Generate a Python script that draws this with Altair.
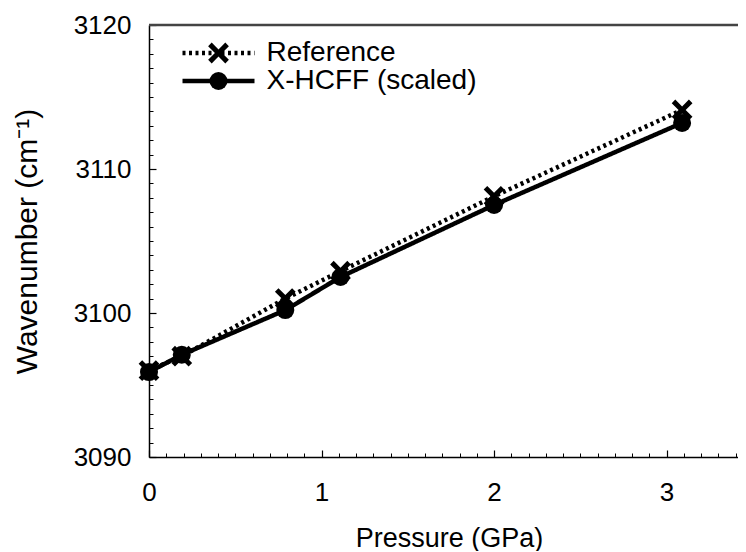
import math
import altair as alt
import pandas as pd

# ---- data ----
pressure = [0.0, 0.19, 0.79, 1.11, 2.0, 3.09]
reference = [3096.0, 3097.0, 3101.0, 3102.9, 3108.1, 3114.1]
xhcff = [3095.9, 3097.1, 3100.2, 3102.5, 3107.5, 3113.2]
series_names = ["Reference", "X-HCFF (scaled)"]
marker_keys = ["ref-marker", "hcff-marker"]

x_major = [0, 1, 2, 3]
x_minor = [0.1, 0.2, 0.3, 0.4, 0.5, 0.6, 0.7, 0.8, 0.9,
           1.1, 1.2, 1.3, 1.4, 1.5, 1.6, 1.7, 1.8, 1.9,
           2.1, 2.2, 2.3, 2.4, 2.5, 2.6, 2.7, 2.8, 2.9,
           3.1, 3.2, 3.3, 3.4]
y_major = [3090, 3100, 3110, 3120]
y_minor = [v for v in range(3090, 3121) if v % 10 != 0]

rows = []
for name, key, vals in zip(series_names, marker_keys, [reference, xhcff]):
    for p, v in zip(pressure, vals):
        rows.append({"series": name, "marker": key, "pressure": p, "wn": v})
df = pd.DataFrame(rows)

FONT = "Liberation Sans"
FS = 26

xscale = alt.Scale(domain=[0, 3.414], nice=False, zero=False)
yscale = alt.Scale(domain=[3090, 3120], nice=False, zero=False)

base = alt.Chart(df)

# frame top line
top = alt.Chart(pd.DataFrame({"y": [3120]})).mark_rule(
    color="#444444", strokeWidth=2.5
).encode(y=alt.Y("y:Q", scale=yscale, axis=None))

# filled "X" marker outline (a plus sign rotated by 45 degrees), unit coords
L, H = 1.35, 0.28
plus = [(-H, L), (H, L), (H, H), (L, H), (L, -H), (H, -H), (H, -L),
        (-H, -L), (-H, -H), (-L, -H), (-L, H), (-H, H)]
rot = [((px - py) / math.sqrt(2), (px + py) / math.sqrt(2)) for px, py in plus]
x_path = "M" + "L".join(f"{a:.3f},{b:.3f}" for a, b in rot) + "Z"
circ_path = "circle"
line_path = "M-4,0L4,0"
SYM = 324

lines = base.mark_line(color="black", strokeWidth=4.5, strokeCap="butt").encode(
    x=alt.X("pressure:Q", scale=xscale,
            axis=alt.Axis(orient="bottom", values=x_major, format="d",
                          ticks=False, tickSize=0, domain=True,
                          domainColor="black", domainWidth=1.5,
                          labelFont=FONT, labelFontSize=FS, labelColor="black",
                          labelPadding=22, labelFlush=False,
                          title="Pressure (GPa)", titleFont=FONT,
                          titleFontSize=27, titleFontWeight="normal",
                          titleColor="black", titlePadding=20, titleX=300)),
    y=alt.Y("wn:Q", scale=yscale,
            axis=alt.Axis(orient="left", values=y_major, format="d",
                          ticks=False, tickSize=0, domain=True,
                          domainColor="black", domainWidth=1.5,
                          labelFont=FONT, labelFontSize=FS, labelColor="black",
                          labelPadding=18, labelFlush=False,
                          title="Wavenumber (cm⁻¹)", titleFont=FONT,
                          titleFontSize=30, titleFontWeight="normal",
                          titleColor="black", titlePadding=31)),
    strokeDash=alt.StrokeDash(
        "series:N",
        scale=alt.Scale(domain=series_names, range=[[3, 3.5], [1, 0]]),
        legend=alt.Legend(orient="none", legendX=55.5, legendY=14,
                          title=None, padding=0,
                          symbolType=line_path, symbolSize=SYM,
                          symbolStrokeColor="black", symbolStrokeWidth=4.5,
                          symbolFillColor="transparent", symbolOpacity=1,
                          labelFont=FONT, labelFontSize=28, labelColor="black",
                          labelLimit=400, labelOffset=34, rowPadding=0),
    ),
    detail="series:N",
)

points = base.mark_point(filled=True, size=SYM, fill="black",
                         strokeWidth=0, opacity=1).encode(
    x=alt.X("pressure:Q", scale=xscale, axis=None),
    y=alt.Y("wn:Q", scale=yscale, axis=None),
    shape=alt.Shape(
        "marker:N",
        scale=alt.Scale(domain=marker_keys, range=[x_path, circ_path]),
        legend=alt.Legend(orient="none", legendX=55.5, legendY=14,
                          title=None, padding=0, symbolSize=SYM,
                          symbolStrokeWidth=0,
                          symbolFillColor="black", symbolOpacity=1,
                          labelFont=FONT, labelFontSize=28, labelLimit=400,
                          labelOpacity=0, labelOffset=34, rowPadding=0),
    ),
)

major_ticks = base.mark_point(opacity=0).encode(
    x=alt.X("pressure:Q", scale=xscale,
            axis=alt.Axis(orient="bottom", values=x_major, offset=-7,
                          tickSize=7, tickWidth=1.2, tickColor="black",
                          domain=False, labels=False, title=None, grid=False)),
    y=alt.Y("wn:Q", scale=yscale,
            axis=alt.Axis(orient="left", values=y_major, offset=-7,
                          tickSize=7, tickWidth=1.2, tickColor="black",
                          domain=False, labels=False, title=None, grid=False)),
)

minor_ticks = base.mark_point(opacity=0).encode(
    x=alt.X("pressure:Q", scale=xscale,
            axis=alt.Axis(orient="bottom", values=x_minor, offset=-4,
                          tickSize=4, tickWidth=1, tickColor="black",
                          domain=False, labels=False, title=None, grid=False)),
    y=alt.Y("wn:Q", scale=yscale,
            axis=alt.Axis(orient="left", values=y_minor, offset=-4,
                          tickSize=4, tickWidth=1, tickColor="black",
                          domain=False, labels=False, title=None, grid=False)),
)

chart = alt.layer(top, minor_ticks, major_ticks, lines, points).resolve_axis(
    x="independent", y="independent"
).properties(
    width=589, height=432,
    autosize=alt.AutoSizeParams(type="none"),
    padding={"left": 141, "top": 17, "right": 0, "bottom": 94},
).configure_view(stroke=None).configure_axis(grid=False)

chart.save("out.html", embed_options={"renderer": "svg", "actions": False})
